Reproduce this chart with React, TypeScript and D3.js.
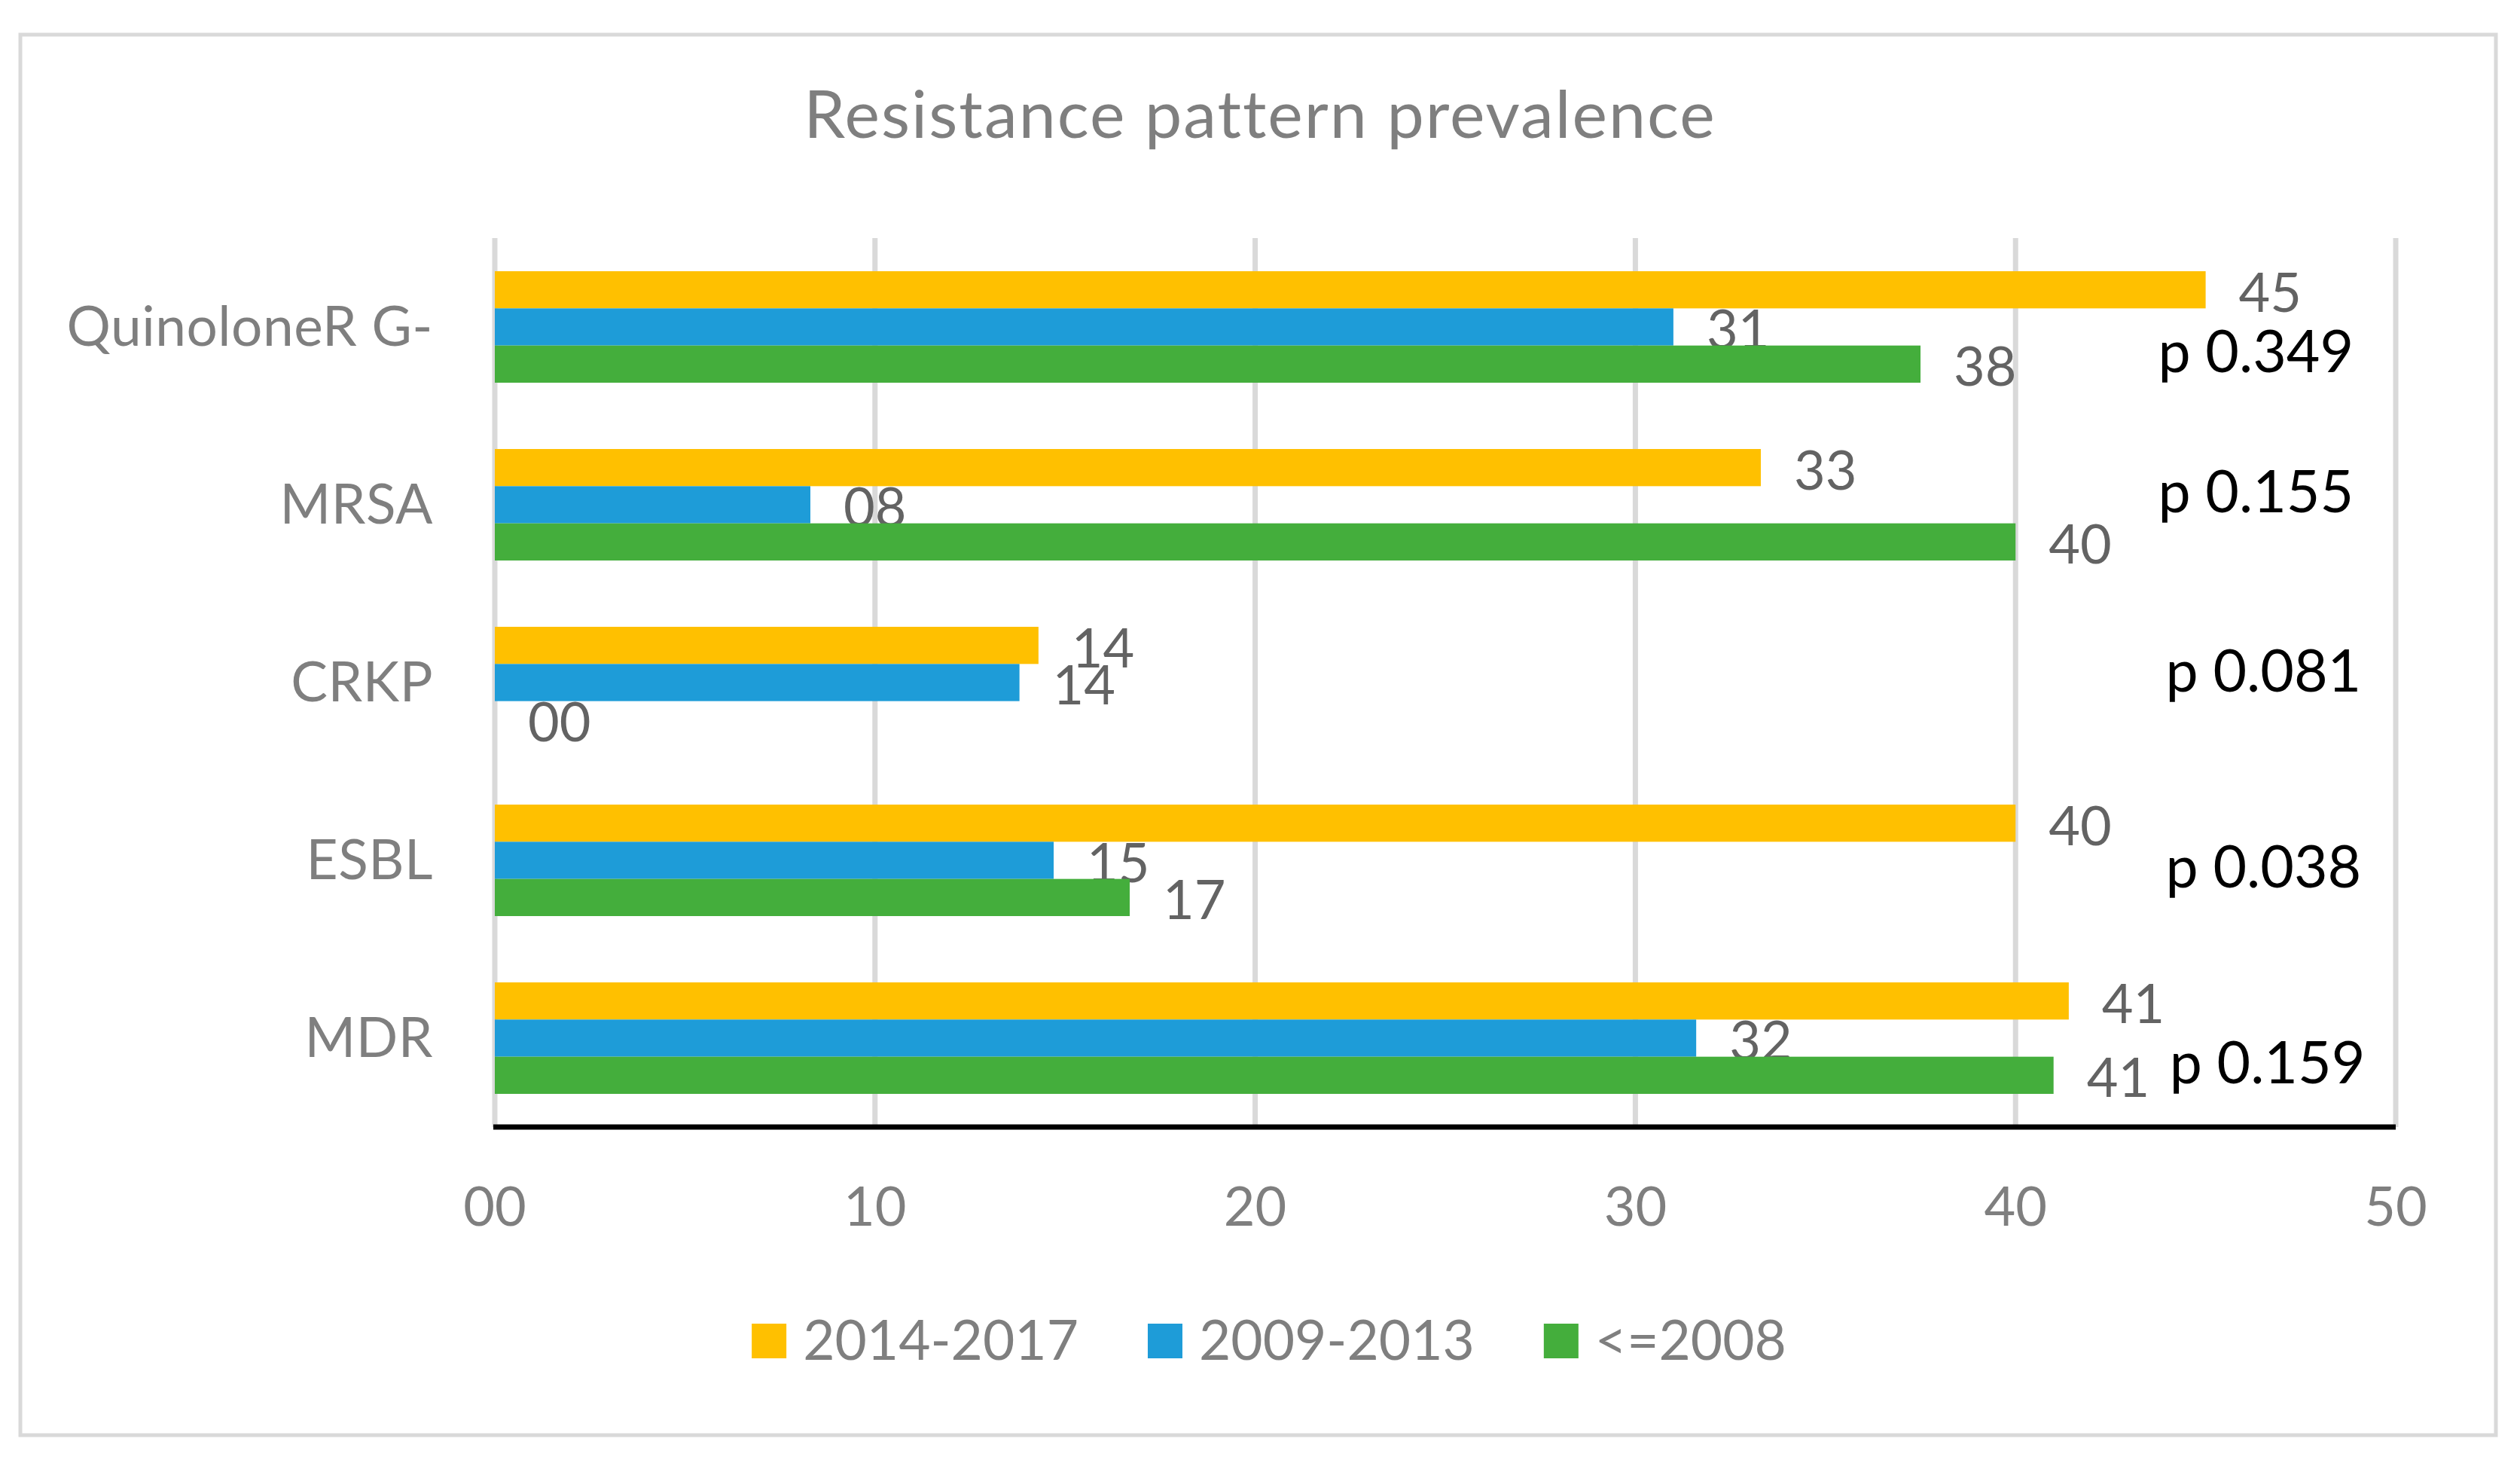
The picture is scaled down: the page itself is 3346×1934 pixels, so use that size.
import { useMemo } from "react";
import * as d3 from "d3";

const categories = ["QuinoloneR G-", "MRSA", "CRKP", "ESBL", "MDR"];
const seriesNames = ["2014-2017", "2009-2013", "<=2008"];
const values2014_2017 = [45.0, 33.3, 14.3, 40.0, 41.4];
const values2009_2013 = [31.0, 8.3, 13.8, 14.7, 31.6];
const valuesUpTo2008 = [37.5, 40.0, 0, 16.7, 41.0];
const pValues = ["p 0.349", "p 0.155", "p 0.081", "p 0.038", "p 0.159"];
const xTicks = [0, 10, 20, 30, 40, 50];

// where each p-value text box sits: x in data units, y as share of the band
const pValueX = [43.75, 43.75, 43.95, 43.95, 44.05];
const pValueShift = [0.136, -0.076, -0.068, 0.034, 0.136];

const colors = ["#FFC000", "#1E9CD8", "#44AE3C"];

const W = 3346;
const H = 1934;
const FONT = "Lato, 'Open Sans', sans-serif";
const margin = { top: 316, right: 165, bottom: 438, left: 657 };

const fmt = d3.format("02.0f");

function textWidth(text: string, size: number) {
  const ctx = document.createElement("canvas").getContext("2d");
  if (!ctx) return text.length * size * 0.5;
  ctx.font = `${size}px Lato`;
  return ctx.measureText(text).width;
}

export default function App() {
  const innerW = W - margin.left - margin.right;
  const innerH = H - margin.top - margin.bottom;

  const x = d3.scaleLinear().domain([0, 50]).range([0, innerW]);
  const y = d3
    .scaleBand<string>()
    .domain(categories)
    .range([0, innerH])
    .paddingInner(0.373)
    .paddingOuter(0.1865);
  const ySeries = d3
    .scaleBand<string>()
    .domain(seriesNames)
    .range([0, y.bandwidth()]);

  const series = [values2014_2017, values2009_2013, valuesUpTo2008];

  const legend = useMemo(() => {
    const sw = 46;
    const gap = 22;
    const spacing = 92;
    const widths = seriesNames.map(n => sw + gap + textWidth(n, 73));
    const total = d3.sum(widths) + spacing * (seriesNames.length - 1);
    let cx = W / 2 + 12 - total / 2;
    return seriesNames.map((n, i) => {
      const item = { name: n, x: cx, color: colors[i] };
      cx += widths[i] + spacing;
      return item;
    });
  }, []);

  return (
    <svg
      width={W}
      height={H}
      style={{ position: "absolute", left: 0, top: 0, background: "#fff" }}
      fontFamily={FONT}
    >
      <rect
        x={27}
        y={46}
        width={3287}
        height={1859}
        fill="#fff"
        stroke="#D9D9D9"
        strokeWidth={5}
      />
      <text
        x={W / 2}
        y={183}
        textAnchor="middle"
        fontSize={88}
        letterSpacing={2}
        fill="#7F7F7F"
      >
        Resistance pattern prevalence
      </text>

      <g transform={`translate(${margin.left},${margin.top})`}>
        {xTicks.map(t => (
          <line
            key={t}
            x1={x(t)}
            x2={x(t)}
            y1={0}
            y2={innerH}
            stroke="#D9D9D9"
            strokeWidth={7}
          />
        ))}

        {categories.map((c, ci) => (
          <g key={c} transform={`translate(0,${y(c)})`}>
            {series.map((vals, si) => {
              const by = ySeries(seriesNames[si])!;
              const bh = ySeries.bandwidth();
              return (
                <g key={si}>
                  <rect
                    x={x(0)}
                    y={by}
                    width={x(vals[ci]) - x(0)}
                    height={bh}
                    fill={colors[si]}
                  />
                  <text
                    x={x(vals[ci]) + 44}
                    y={by + bh / 2 + 29}
                    fontSize={72}
                    fill="#636363"
                  >
                    {fmt(vals[ci])}
                  </text>
                </g>
              );
            })}
            <text
              x={-82}
              y={y.bandwidth() / 2 + 25}
              textAnchor="end"
              fontSize={73}
              letterSpacing={0.5}
              fill="#7F7F7F"
            >
              {c}
            </text>
            <text
              x={x(pValueX[ci])}
              y={y.bandwidth() / 2 + pValueShift[ci] * y.step() + 28}
              fontSize={77}
              fill="#000"
            >
              {pValues[ci]}
            </text>
          </g>
        ))}

        <line
          x1={x(0) - 2}
          x2={x(50)}
          y1={innerH}
          y2={innerH}
          stroke="#000"
          strokeWidth={7}
        />

        {xTicks.map(t => (
          <text
            key={t}
            x={x(t)}
            y={innerH + 131}
            textAnchor="middle"
            fontSize={72}
            fill="#7F7F7F"
          >
            {fmt(t)}
          </text>
        ))}
      </g>

      {legend.map(item => (
        <g key={item.name} transform={`translate(${item.x},1757)`}>
          <rect width={46} height={46} fill={item.color} />
          <text x={68} y={48} fontSize={73} fill="#7F7F7F">
            {item.name}
          </text>
        </g>
      ))}
    </svg>
  );
}
